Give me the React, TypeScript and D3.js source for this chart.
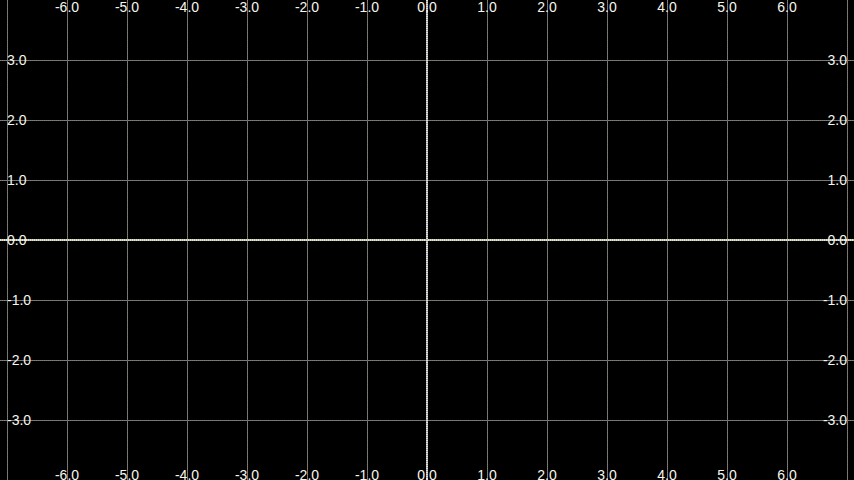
import * as d3 from "d3";

const W = 854;
const H = 480;

// grid values (units)
const xGrid = [-7, -6, -5, -4, -3, -2, -1, 1, 2, 3, 4, 5, 6, 7];
const yGrid = [-3, -2, -1, 1, 2, 3];
const xLabels = ["-6.0", "-5.0", "-4.0", "-3.0", "-2.0", "-1.0", "0.0", "1.0", "2.0", "3.0", "4.0", "5.0", "6.0"];
const yLabels = ["3.0", "2.0", "1.0", "0.0", "-1.0", "-2.0", "-3.0"];

const textColor = "#f6f6ee";
const gridA = "#86863e";
const gridB = "#6a6aa0";

function DottedLine({ x1, y1, x2, y2, a, b, w = 1 }: { x1: number; y1: number; x2: number; y2: number; a: string; b: string; w?: number }) {
  return (
    <g>
      <line x1={x1} y1={y1} x2={x2} y2={y2} stroke={a} strokeWidth={w} strokeDasharray="1 1" />
      <line x1={x1} y1={y1} x2={x2} y2={y2} stroke={b} strokeWidth={w} strokeDasharray="1 1" strokeDashoffset={1} />
    </g>
  );
}

export default function App() {
  const x = d3.scaleLinear().domain([-427 / 60, 427 / 60]).range([0, W]);
  const y = d3.scaleLinear().domain([4, -4]).range([0, H]);

  return (
    <div style={{ position: "fixed", inset: 0, background: "#000" }}>
      <svg width={W} height={H} style={{ display: "block" }} fontFamily="Liberation Sans, Arial, sans-serif">
        <rect width={W} height={H} fill="#000" />
        {xGrid.map((v) => (
          <DottedLine key={"x" + v} x1={Math.round(x(v)) + 0.5} y1={0} x2={Math.round(x(v)) + 0.5} y2={H} a={gridA} b={gridB} />
        ))}
        {yGrid.map((v) => (
          <DottedLine key={"y" + v} x1={0} y1={Math.round(y(v)) + 0.5} x2={W} y2={Math.round(y(v)) + 0.5} a={gridA} b={gridB} />
        ))}
        {/* axes */}
        <DottedLine x1={0} y1={y(0)} x2={W} y2={y(0)} a="#e8e8c8" b="#b8b8b0" w={2} />
        <DottedLine x1={x(0)} y1={0} x2={x(0)} y2={H} a="#e0e0e0" b="#a8a8a8" w={2} />

        {xLabels.map((t) => {
          const v = +t;
          return (
            <g key={"xl" + t} fill={textColor} fontSize={14} textAnchor="middle">
              <text x={x(v)} y={11.5}>{t}</text>
              <text x={x(v)} y={479.5}>{t}</text>
            </g>
          );
        })}
        {yLabels.map((t) => {
          const v = +t;
          return (
            <g key={"yl" + t} fill={textColor} fontSize={14} dominantBaseline="central">
              <text x={7} y={y(v)}>{t}</text>
              <text x={847} y={y(v)} textAnchor="end">{t}</text>
            </g>
          );
        })}
      </svg>
    </div>
  );
}
